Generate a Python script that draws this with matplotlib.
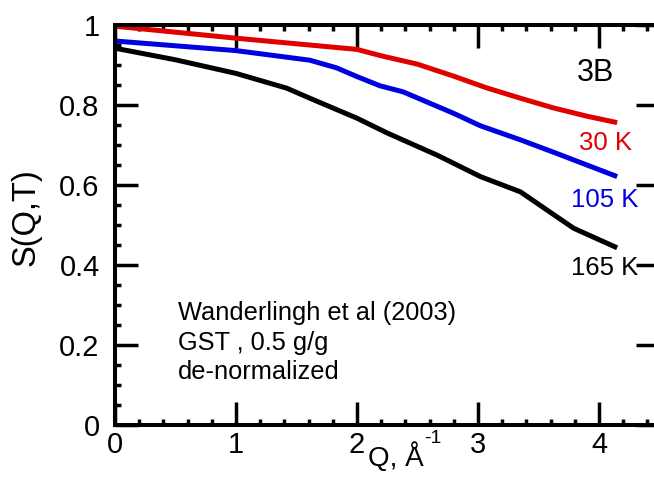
import matplotlib
matplotlib.use("Agg")
from matplotlib import pyplot as plt
from matplotlib.ticker import MultipleLocator

plt.rcParams['font.family'] = ['Liberation Sans', 'DejaVu Sans']

# Donnees :
q_30 = [0, 0.5, 1.0, 1.5, 2.0, 2.2, 2.5, 2.8, 3.07, 3.35, 3.62, 3.9, 4.15]
s_30 = [0.997, 0.982, 0.967, 0.953, 0.939, 0.923, 0.902, 0.872, 0.843,
        0.817, 0.793, 0.772, 0.756]

q_105 = [0, 0.5, 1.0, 1.61, 1.83, 2.0, 2.19, 2.38, 2.8, 3.02, 3.35, 3.65,
         4.15]
s_105 = [0.96, 0.948, 0.936, 0.912, 0.893, 0.871, 0.848, 0.833, 0.779,
         0.748, 0.713, 0.679, 0.621]

q_165 = [0, 0.5, 1.0, 1.42, 1.61, 2.0, 2.25, 2.38, 2.66, 3.02, 3.35, 3.57,
         3.79, 4.15]
s_165 = [0.942, 0.913, 0.879, 0.842, 0.817, 0.767, 0.73, 0.7125, 0.675,
         0.621, 0.583, 0.5375, 0.492, 0.443]

series = [
    (q_30, s_30, '#e00000', '30 K', 0.705),
    (q_105, s_105, '#0000e0', '105 K', 0.5625),
    (q_165, s_165, 'black', '165 K', 0.393),
]
notes = ["Wanderlingh et al (2003)", "GST , 0.5 g/g", "de-normalized"]

fig = plt.figure(figsize=(6.54, 4.93), dpi=100)
ax = fig.add_axes([0.1758, 0.1379, 0.8326, 0.8114])

for q, s, color, label, ylab in series:
    ax.plot(q, s, color=color, lw=3.6, solid_capstyle='butt')
    ax.text(4.05, ylab, label, color=color, fontsize=18.5,
            ha='center', va='center')

ax.text(3.975, 0.88, "3B", fontsize=22, ha='center', va='center')
for i, line in enumerate(notes):
    ax.text(0.52, 0.28 - i * 0.074, line, fontsize=18.3,
            ha='left', va='center')

ax.set_xlim(0, 4.5)
ax.set_ylim(0, 1)
ax.xaxis.set_minor_locator(MultipleLocator(0.2))
ax.yaxis.set_minor_locator(MultipleLocator(0.05))
ax.set_xticks([0, 1, 2, 3, 4], ['0', '1', '2', '3', '4'])
ax.set_yticks([0, 0.2, 0.4, 0.6, 0.8, 1.0],
              ['0', '0.2', '0.4', '0.6', '0.8', '1'])

for sp in ax.spines.values():
    sp.set_linewidth(2.9)
ax.tick_params(which='both', direction='in', top=True, right=True,
               labelsize=21)
ax.tick_params(which='major', length=16.5, width=2.5)
ax.tick_params(which='minor', length=4, width=2.5, right=False)
ax.tick_params(axis='y', pad=11)
ax.tick_params(axis='x', pad=4)

# Libelles des axes (exposant avec un tiret simple) :
ax.text(0.465, -0.103, "Q, Å", fontsize=20, ha='left', va='baseline',
        transform=ax.transAxes)
ax.text(0.568, -0.045, "-1", fontsize=14, ha='left', va='baseline',
        transform=ax.transAxes)
ax.set_ylabel("S(Q,T)", fontsize=23.5)
ax.yaxis.set_label_coords(-0.134, 0.52)

fig.savefig("out.png", dpi=100)
